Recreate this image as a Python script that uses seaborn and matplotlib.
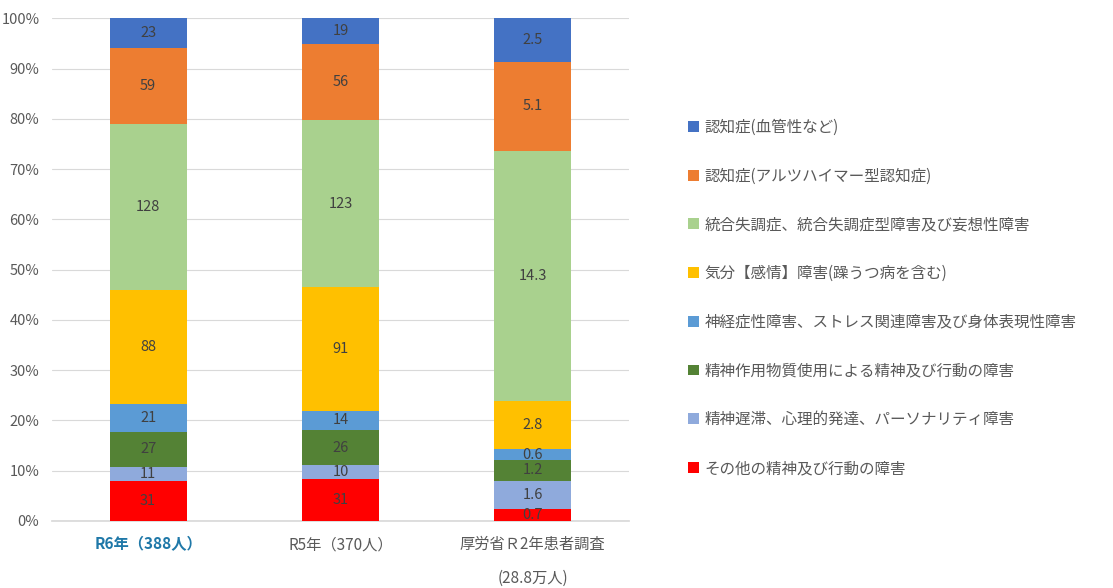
import numpy as np
import pandas as pd
import matplotlib
matplotlib.use("Agg")
import matplotlib.pyplot as plt
import seaborn as sns
from matplotlib.patches import Patch

sns.set_theme(style="white")
plt.rcParams['font.family'] = ['Noto Sans CJK JP', 'DejaVu Sans']

# categories (x axis)
groups = ["R6年（388人）", "R5年（370人）", "厚労省Ｒ2年患者調査\n(28.8万人)"]

# series, bottom to top
series = [
    "その他の精神及び行動の障害",
    "精神遅滞、心理的発達、パーソナリティ障害",
    "精神作用物質使用による精神及び行動の障害",
    "神経症性障害、ストレス関連障害及び身体表現性障害",
    "気分【感情】障害(躁うつ病を含む)",
    "統合失調症、統合失調症型障害及び妄想性障害",
    "認知症(アルツハイマー型認知症)",
    "認知症(血管性など)",
]
r6 = [31, 11, 27, 21, 88, 128, 59, 23]
r5 = [31, 10, 26, 14, 91, 123, 56, 19]
r2 = [0.7, 1.6, 1.2, 0.6, 2.8, 14.3, 5.1, 2.5]
labels = [
    ["31", "11", "27", "21", "88", "128", "59", "23"],
    ["31", "10", "26", "14", "91", "123", "56", "19"],
    ["0.7", "1.6", "1.2", "0.6", "2.8", "14.3", "5.1", "2.5"],
]
colors = ["#FF0000", "#8FAADC", "#548235", "#5B9BD5",
          "#FFC000", "#A9D18E", "#ED7D31", "#4472C4"]

vals = np.array([r6, r5, r2], dtype=float)
pct = vals / vals.sum(axis=1, keepdims=True) * 100
cum = np.cumsum(pct, axis=1)

fig = plt.figure(figsize=(11.13, 5.88), dpi=100)
ax = fig.add_axes([0.0467, 0.114, 0.5184, 0.855])

# draw cumulative bars from the top layer down so each covers the one above
for i in range(len(series) - 1, -1, -1):
    df = pd.DataFrame({"group": groups, "value": cum[:, i]})
    sns.barplot(data=df, x="group", y="value", color=colors[i], width=0.40,
                saturation=1, linewidth=0, ax=ax, zorder=3)

# segment labels
for g in range(len(groups)):
    for i in range(len(series)):
        mid = cum[g, i] - pct[g, i] / 2
        ax.text(g, mid, labels[g][i], ha="center", va="center",
                fontsize=10.5, color="#404040", zorder=5)

ax.set_ylim(0, 100)
ax.set_xlim(-0.5, 2.5)
ax.set_yticks(np.arange(0, 101, 10))
ax.set_yticklabels([f"{t}%" for t in range(0, 101, 10)])
ax.yaxis.grid(True, color="#D9D9D9", linewidth=0.8, zorder=0)
ax.set_axisbelow(True)
for s in ["top", "right", "left"]:
    ax.spines[s].set_visible(False)
ax.spines["bottom"].set_color("#D9D9D9")
ax.tick_params(axis="y", length=0, labelsize=10.5, colors="#595959", pad=9)
ax.tick_params(axis="x", length=0, labelsize=11, colors="#595959", pad=11)
ax.set_xlabel("")
ax.set_ylabel("")
for lab in ax.get_xticklabels():
    lab.set_linespacing(2.3)
    lab.set_verticalalignment("top")
xl = ax.get_xticklabels()
xl[0].set_color("#1F78A8")
xl[0].set_fontweight("bold")

handles = [Patch(facecolor=colors[i], edgecolor="none", label=series[i])
           for i in range(len(series) - 1, -1, -1)]
leg = fig.legend(handles=handles, loc="upper left", bbox_to_anchor=(0.6125, 0.8085),
                 frameon=False, fontsize=11.2, labelspacing=2.04,
                 handlelength=0.7, handleheight=0.7, handletextpad=0.35,
                 borderaxespad=0)
for t in leg.get_texts():
    t.set_color("#595959")

fig.savefig("out.png", dpi=100)
